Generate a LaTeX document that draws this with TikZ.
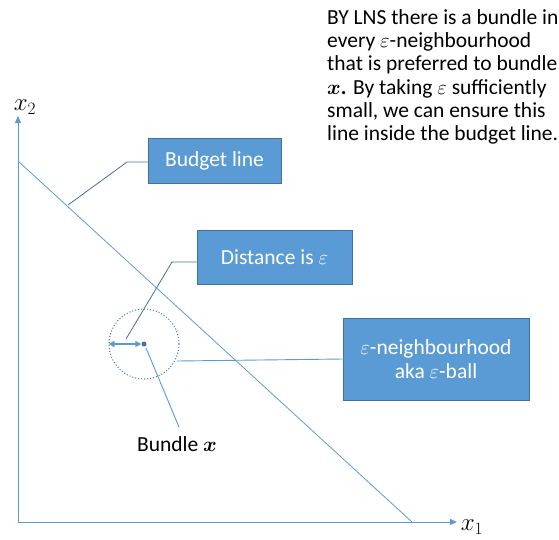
\documentclass[tikz,border=0pt]{standalone}
\usepackage{amsmath}
\usepackage{fontspec}
\setmainfont{Carlito}
\usetikzlibrary{arrows.meta}
\definecolor{boxfill}{HTML}{5B9BD5}
\definecolor{boxedge}{HTML}{41719C}
\definecolor{ln}{HTML}{5B9BD5}
\definecolor{dk}{HTML}{41719C}
\begin{document}
\begin{tikzpicture}[x=1pt,y=-1pt,font=\fontsize{21.5}{23.3}\selectfont,
  box/.style={draw=boxedge,fill=boxfill,text=white,line width=0.8pt,inner sep=0pt,align=center},
  axis/.style={ln,line width=1pt,-{Triangle[length=7pt,width=6pt]}},
  bline/.style={ln,line width=0.8pt},
  conn/.style={dk,line width=0.8pt},
  lconn/.style={ln,line width=0.9pt},
  axlab/.style={font=\fontsize{24}{26}\selectfont}]
\useasboundingbox (0,0) rectangle (559,539);
% axes
\coordinate (O) at (18,522);
\coordinate (Ytip) at (18,116);
\coordinate (Xtip) at (457,522);
\draw[axis] (O) -- (Ytip);
\draw[axis] (O) -- (Xtip);
\node[axlab] (x2) at (25,107) {$x_2$};
\node[axlab] (x1) at (472,527) {$x_1$};
% budget line
\coordinate (B1) at (18,161);
\coordinate (B2) at (412,522);
\draw[bline] (B1) -- (B2);
% boxes
\node[box,minimum width=133pt,minimum height=45pt] (bud) at (214.5,160.5) {Budget line};
\node[box,minimum width=155pt,minimum height=54pt] (dist) at (274.5,257) {Distance is $\varepsilon$};
\node[box,minimum width=186pt,minimum height=82pt] (nb) at (436,359) {$\varepsilon$-neighbourhood\\aka $\varepsilon$-ball};
% ball
\node[circle,draw=dk,dotted,line width=1pt,minimum size=70pt,inner sep=0pt] (ball) at (144,344) {};
\node[circle,fill=dk,minimum size=5pt,inner sep=0pt] (dot) at (144,344) {};
\draw[ln,line width=1.5pt,{Triangle[length=6pt,width=6pt]}-{Triangle[length=6pt,width=6pt]}] (ball.west) -- (dot.west);
% labels
\node (bx) at (177,444) {Bundle $\boldsymbol{x}$};
% connectors
\coordinate (c1a) at (127,162);
\coordinate (c1b) at (68,205);
\draw[conn] (bud.west |- c1a) -- (c1a) -- (c1b);
\coordinate (c2a) at (172,262);
\coordinate (c2b) at (126,339);
\draw[conn] (dist.west |- c2a) -- (c2a) -- (c2b);
\coordinate (c3a) at (177,361);
\draw[lconn] (nb.west) -- (c3a);
\coordinate (c4b) at (179,427);
\draw[lconn] (146,348) -- (c4b);
% text
\node[anchor=north west,align=left,inner sep=0pt] (txt) at (327,9) {BY LNS there is a bundle in\\every $\varepsilon$-neighbourhood\\that is preferred to bundle\\$\boldsymbol{x}$\textbf{.} By taking $\varepsilon$ sufficiently\\small, we can ensure this\\line inside the budget line.};
\end{tikzpicture}
\end{document}
